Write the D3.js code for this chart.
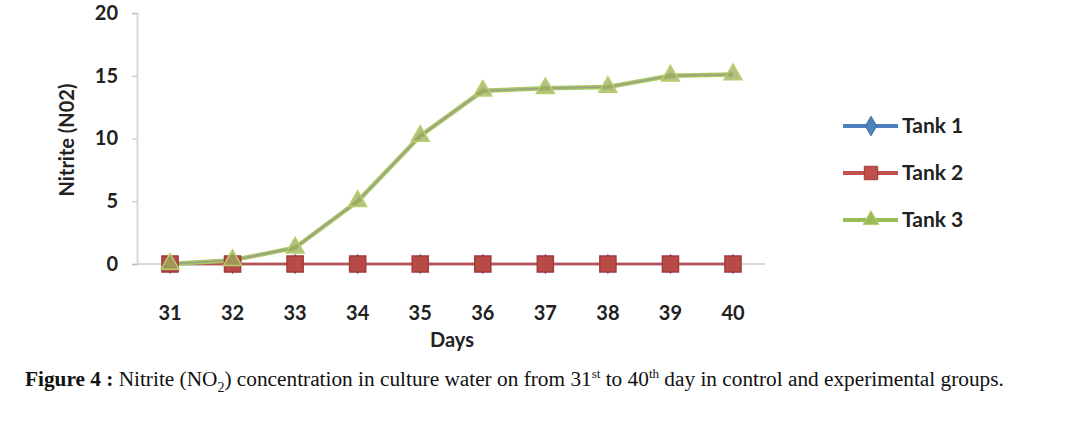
<!DOCTYPE html>
<html><head><meta charset="utf-8">
<script src="https://cdn.jsdelivr.net/npm/d3@7"></script>
<style>body{margin:0;background:#fff;} svg{display:block;}</style>
</head><body>
<svg id="c" width="1072" height="430"></svg>
<script>
const days = [31,32,33,34,35,36,37,38,39,40];
const tank1 = [0,0,0,0,0,0,0,0,0,0];
const tank2 = [0,0,0,0,0,0,0,0,0,0];
const tank3 = [0,0.3,1.3,5.0,10.2,13.8,14.0,14.1,15.0,15.1];
const yTicks = [0,5,10,15,20];
const seriesNames = ["Tank 1","Tank 2","Tank 3"];
const colors = ["#4f81bd","#c0504d","#9bbb59"];
const strokes = ["#3a6aa5","#a33b38","#b6cf6a"];

const svg = d3.select("#c");
const x = d3.scalePoint().domain(days).range([170,733]);
const y = d3.scaleLinear().domain([0,20]).range([264,13]);
const font = "Lato, 'Open Sans', sans-serif";

// axes
const yAx = svg.append("g").attr("transform","translate(137,0)")
  .call(d3.axisLeft(y).tickValues(yTicks).tickSize(5).tickPadding(14));
yAx.select(".domain").attr("stroke","#d9d9d9").attr("stroke-width",2);
yAx.selectAll(".tick line").attr("stroke","#bfbfbf");
yAx.selectAll(".tick text").attr("font-family",font).attr("font-weight","bold")
  .attr("font-size",20).attr("fill","#222");

svg.append("line").attr("x1",137).attr("x2",765).attr("y1",y(0)).attr("y2",y(0))
  .attr("stroke","#d9d9d9").attr("stroke-width",2);

svg.append("g").selectAll("text").data(days).join("text")
  .attr("x",d=>x(d)).attr("y",320).attr("text-anchor","middle")
  .attr("font-family",font).attr("font-weight","bold").attr("font-size",20).attr("fill","#222")
  .text(d=>d);

svg.append("text").attr("x",452).attr("y",347).attr("text-anchor","middle")
  .attr("font-family",font).attr("font-weight","bold").attr("font-size",20).attr("fill","#222")
  .text("Days");

svg.append("text").attr("transform","translate(74,140) rotate(-90)").attr("text-anchor","middle")
  .attr("font-family",font).attr("font-weight","bold").attr("font-size",20).attr("fill","#222")
  .text("Nitrite (N02)");

const data = [tank1,tank2,tank3];
const line = d3.line().x((d,i)=>x(days[i])).y(d=>y(d));

const sq = d3.symbol().type(d3.symbolSquare).size(260);
const tri = d3.symbol().type(d3.symbolTriangle).size(140);
const dia = d3.symbol().type(d3.symbolDiamond).size(90);
const syms = [dia,sq,tri];

data.forEach((vals,k)=>{
  svg.append("path").datum(vals).attr("d",line).attr("fill","none")
    .attr("stroke",k===2?"#a9c763":colors[k]).attr("stroke-width",k===2?4.5:2.5);
  if(k===2){
    svg.append("path").datum(vals).attr("d",line).attr("fill","none")
      .attr("stroke","#9a9f86").attr("stroke-width",1.6);
  }
});
data.forEach((vals,k)=>{
  svg.append("g").selectAll("path").data(vals).join("path")
    .attr("transform",(d,i)=>`translate(${x(days[i])},${y(d)})`)
    .attr("d",syms[k]()).attr("fill",k===2?"#9aab5e":(k===1?"#b84a48":colors[k])).attr("fill-opacity",k===2?0.75:1)
    .attr("stroke",strokes[k]).attr("stroke-width",1.5);
});

// legend
const lg = svg.append("g");
seriesNames.forEach((n,k)=>{
  const ly = 126 + k*47;
  lg.append("line").attr("x1",843).attr("x2",898).attr("y1",ly).attr("y2",ly)
    .attr("stroke",colors[k]).attr("stroke-width",4);
  lg.append("path").attr("transform",`translate(871,${ly})`).attr("d",syms[k].size(k===1?180:110)())
    .attr("fill",colors[k]).attr("stroke",strokes[k]);
  lg.append("text").attr("x",902).attr("y",ly+7).attr("font-family",font).attr("font-weight","bold")
    .attr("font-size",21).attr("fill","#222").text(n);
});

// caption
const cap = svg.append("text").attr("x",25).attr("y",386)
  .attr("font-family","'Liberation Serif', 'Times New Roman', serif").attr("font-size",21.3).attr("fill","#111");
cap.append("tspan").attr("font-weight","bold").text("Figure 4 : ");
cap.append("tspan").text("Nitrite (NO");
cap.append("tspan").attr("font-size",14).attr("dy",6).text("2");
cap.append("tspan").attr("dy",-6).text(") concentration in culture water on from 31");
cap.append("tspan").attr("font-size",13).attr("dy",-8).text("st");
cap.append("tspan").attr("dy",8).text(" to 40");
cap.append("tspan").attr("font-size",13).attr("dy",-8).text("th");
cap.append("tspan").attr("dy",8).text(" day in control and experimental groups.");
</script>
</body></html>
